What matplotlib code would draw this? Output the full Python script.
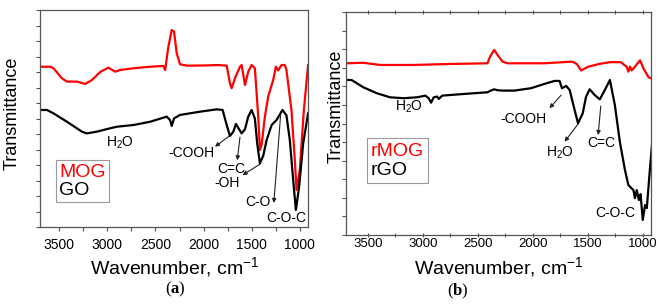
import matplotlib
matplotlib.use("Agg")
import matplotlib.pyplot as plt
from matplotlib.ticker import MultipleLocator
from matplotlib.lines import Line2D

plt.rcParams['font.family'] = ['Liberation Sans', 'DejaVu Sans']
plt.rcParams['mathtext.fontset'] = 'custom'
plt.rcParams['mathtext.rm'] = 'Liberation Sans'
plt.rcParams['mathtext.it'] = 'Liberation Sans:italic'
plt.rcParams['mathtext.bf'] = 'Liberation Serif:bold'

# ---------------- Panel (a) data ----------------
a_mog_wn = [3690, 3593, 3559, 3472, 3420, 3316, 3230, 3161, 3075, 2989, 2937, 2919, 2867,
            2729, 2556, 2418, 2400, 2366, 2331, 2307, 2279, 2245, 2175, 2000, 1850, 1760,
            1726, 1708, 1674, 1622, 1605, 1570, 1536, 1501, 1467, 1432, 1415, 1397, 1363,
            1329, 1277, 1249, 1225, 1190, 1156, 1139, 1087, 1052, 1034, 1000, 958, 914]
a_mog_t = [10.34, 10.34, 10.24, 9.59, 9.38, 9.38, 9.23, 9.48, 10.0, 10.28, 10.09, 10.02, 10.13,
           10.24, 10.34, 10.39, 10.13, 11.63, 12.71, 12.60, 11.2, 10.5, 10.41, 10.42, 10.45, 10.41,
           9.27, 8.95, 9.6, 10.34, 10.45, 9.16, 10.02, 10.45, 10.24, 7.12, 4.97, 5.3, 7.12,
           8.41, 9.48, 10.34, 10.1, 10.45, 10.45, 10.13, 7.55, 4.32, 2.39, 3.68, 7.55, 10.45]

a_go_wn = [3690, 3628, 3559, 3420, 3264, 3213, 3109, 2971, 2901, 2729, 2556, 2383, 2349,
           2331, 2307, 2245, 2037, 1864, 1802, 1760, 1726, 1691, 1664, 1640, 1605, 1570,
           1536, 1501, 1467, 1443, 1415, 1380, 1345, 1293, 1242, 1180, 1139, 1104, 1069,
           1041, 1007, 965, 914]
a_go_t = [7.55, 7.55, 7.33, 6.79, 6.15, 6.04, 6.15, 6.37, 6.47, 6.58, 6.79, 7.12, 6.9,
          6.52, 7.01, 7.23, 7.44, 7.59, 7.55, 6.58, 5.87, 6.15, 6.65, 6.4, 6.04, 6.3,
          7.12, 7.55, 7.0, 5.4, 4.11, 4.6, 5.61, 6.58, 6.9, 7.55, 7.2, 5.61, 3.03,
          1.10, 2.6, 5.4, 7.33]

# ---------------- Panel (b) data ----------------
b_rmog_wn = [3695, 3543, 3390, 3085, 2779, 2413, 2389, 2352, 2321, 2276, 2230, 1900, 1640,
             1600, 1560, 1500, 1400, 1300, 1200, 1147, 1131, 1116, 1101, 1071, 1025, 994,
             948, 902]
b_rmog_t = [9.24, 9.27, 9.15, 9.15, 9.2, 9.24, 9.6, 9.96, 9.69, 9.33, 9.24, 9.24, 9.33,
            9.2, 8.85, 9.05, 9.2, 9.3, 9.3, 9.06, 8.79, 9.06, 8.85, 9.06, 9.4, 8.97,
            8.49, 8.38]

b_rgo_wn = [3695, 3649, 3543, 3420, 3299, 3177, 3054, 2978, 2948, 2926, 2902, 2871, 2856,
            2825, 2627, 2413, 2383, 2352, 2321, 2276, 2169, 2016, 1895, 1803, 1757, 1735,
            1696, 1665, 1620, 1589, 1546, 1516, 1483, 1437, 1391, 1345, 1299, 1254, 1208,
            1162, 1131, 1100, 1085, 1071, 1055, 1035, 1020, 1000, 979, 963, 933, 902]
b_rgo_t = [8.34, 8.34, 7.95, 7.63, 7.41, 7.36, 7.41, 7.5, 7.36, 7.12, 7.41, 7.45, 7.32,
           7.5, 7.59, 7.68, 7.77, 7.84, 7.79, 7.77, 7.77, 7.9, 8.13, 8.29, 8.29, 7.9,
           8.02, 7.8, 6.73, 6.01, 6.55, 7.44, 7.84, 7.53, 7.3, 7.8, 8.34, 7.0, 5.0,
           3.5, 2.69, 2.5, 2.42, 1.98, 2.42, 1.88, 2.2, 0.81, 1.61, 1.45, 3.68, 5.8]

x_ticks = [3500, 3000, 2500, 2000, 1500, 1000]
legend_a = ['MOG', 'GO']
legend_b = ['rMOG', 'rGO']
RED = '#ff0000'
FRAME = '#555555'

fig = plt.figure(figsize=(6.59, 3.05), dpi=100)
axa = fig.add_axes([40/659, 1-227/305, 268/659, 217/305])
axb = fig.add_axes([346/659, 1-235/305, 305/659, 223/305])


def style(ax, xlim, ylim, ystep):
    ax.set_xlim(*xlim)
    ax.set_ylim(*ylim)
    ax.set_xticks(x_ticks)
    ax.xaxis.set_minor_locator(MultipleLocator(250))
    ax.yaxis.set_major_locator(MultipleLocator(ystep))
    ax.yaxis.set_minor_locator(MultipleLocator(ystep / 2))
    ax.tick_params(axis='x', which='both', direction='out', length=3, width=0.8,
                   color=FRAME, labelsize=10, pad=2, top=False)
    ax.tick_params(axis='y', which='both', direction='out', length=3, width=0.8,
                   color=FRAME, labelleft=False)
    for s in ax.spines.values():
        s.set_color(FRAME)
        s.set_linewidth(0.9)


# ---- panel a ----
axa.plot(a_mog_wn, a_mog_t, color=RED, lw=1.6)
axa.plot(a_go_wn, a_go_t, color='black', lw=1.6)
style(axa, (3700, 915), (0, 14), 2)
axa.tick_params(axis='x', pad=5)

ap = dict(arrowstyle='-|>', color='#222222', lw=0.8, mutation_scale=6, shrinkA=0, shrinkB=0)
fs = 10
axa.text(2867, 5.42, r'H$_2$O', ha='center', va='center', fontsize=fs)
axa.text(2124, 4.75, '-COOH', ha='center', va='center', fontsize=fs)
axa.annotate('', xy=(1882, 5.18), xytext=(1733, 5.87), arrowprops=ap)
axa.text(1709, 3.72, 'C=C', ha='center', va='center', fontsize=fs)
axa.annotate('', xy=(1650, 4.3), xytext=(1622, 5.8), arrowprops=ap)
axa.text(1760, 2.82, '-OH', ha='center', va='center', fontsize=fs)
axa.annotate('', xy=(1595, 3.35), xytext=(1415, 4.05), arrowprops=ap)
axa.text(1433, 1.63, 'C-O', ha='center', va='center', fontsize=fs)
axa.annotate('', xy=(1270, 1.55), xytext=(1200, 7.2), arrowprops=ap)
axa.text(1139, 0.56, 'C-O-C', ha='center', va='center', fontsize=fs)

handles = [Line2D([], [], lw=0)] * 2
la = axa.legend(handles, legend_a, loc='lower left', bbox_to_anchor=(0.06, 0.115),
                borderaxespad=0, handlelength=0, handletextpad=0, fontsize=14,
                labelcolor=[RED, 'black'], fancybox=False, edgecolor='#999999',
                framealpha=1, borderpad=0.15, labelspacing=0.05)
la.get_frame().set_linewidth(0.8)

# ---- panel b ----
axb.plot(b_rmog_wn, b_rmog_t, color=RED, lw=1.6)
axb.plot(b_rgo_wn, b_rgo_t, color='black', lw=1.6)
style(axb, (3700, 925), (0, 12), 2)
axb.tick_params(axis='x', which='both', top=True, direction='inout', labelsize=9.5, pad=0.5)

axb.text(3131, 6.9, r'H$_2$O', ha='center', va='center', fontsize=fs)
axb.text(2083, 6.23, '-COOH', ha='center', va='center', fontsize=fs)
axb.annotate('', xy=(1849, 6.82), xytext=(1742, 7.53), arrowprops=ap)
axb.text(1757, 4.4, r'H$_2$O', ha='center', va='center', fontsize=fs)
axb.annotate('', xy=(1711, 5.02), xytext=(1589, 5.97), arrowprops=ap)
axb.text(1382, 4.93, 'C=C', ha='center', va='center', fontsize=fs)
axb.annotate('', xy=(1406, 5.38), xytext=(1382, 6.94), arrowprops=ap)
axb.text(1254, 1.17, 'C-O-C', ha='center', va='center', fontsize=fs)

lb = axb.legend(handles, legend_b, loc='lower left', bbox_to_anchor=(0.069, 0.233),
                borderaxespad=0, handlelength=0, handletextpad=0, fontsize=14,
                labelcolor=[RED, 'black'], fancybox=False, edgecolor='#999999',
                framealpha=1, borderpad=0.2, labelspacing=0.1)
lb.get_frame().set_linewidth(0.8)

# ---- figure texts ----
fig.text(12/659, 1-113/305, 'Transmittance', rotation=90, ha='center', va='center', fontsize=13)
fig.text(336/659, 1-106/305, 'Transmittance', rotation=90, ha='center', va='center', fontsize=13)
fig.text(175/659, 1-267/305, r'Wavenumber, cm$^{-1}$', ha='center', va='center', fontsize=14)
fig.text(499/659, 1-267/305, r'Wavenumber, cm$^{-1}$', ha='center', va='center', fontsize=14)
fig.text(175/659, 1-289/305, r'($\mathbf{a}$)', ha='center', va='center', fontsize=12,
         family='Liberation Serif')
fig.text(458/659, 1-291/305, r'($\mathbf{b}$)', ha='center', va='center', fontsize=12,
         family='Liberation Serif')

fig.savefig('out.png', dpi=100)
